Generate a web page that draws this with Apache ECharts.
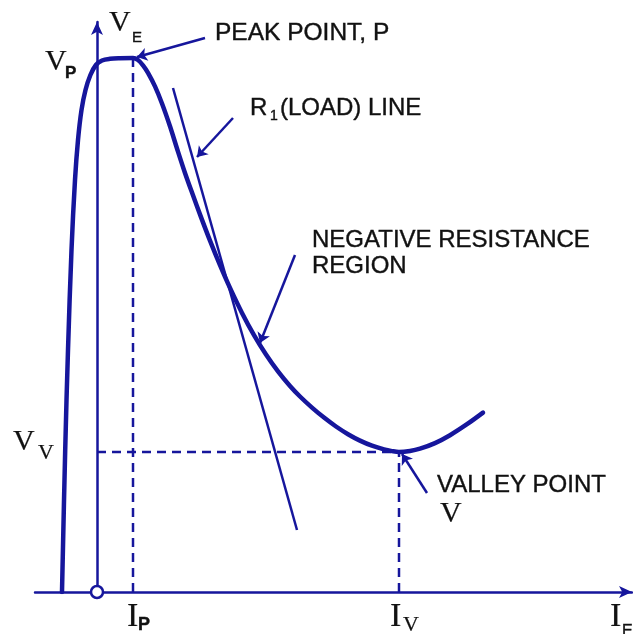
<!DOCTYPE html>
<html>
<head>
<meta charset="utf-8">
<script src="https://cdn.jsdelivr.net/npm/echarts@6/dist/echarts.min.js"></script>
<style>
  html, body { margin: 0; padding: 0; background: #fff; }
  #chart { width: 633px; height: 634px; }
</style>
</head>
<body>
<div id="chart"></div>
<script>
// UJT emitter characteristic: emitter current I_E (x) against emitter voltage V_E (y)
const emitterCurrent = [-3.5, -3.18, -2.9, -2.55, -2.2, -1.9, -1.55, -1.15, -0.66, -0.11,
  0.5, 1.3, 2.3, 3.6, 4.1, 4.6, 5.1, 5.8, 6.5, 7.3, 8.0, 8.8, 9.6, 10.4,
  11.3, 12.3, 13.3, 14.5, 15.7, 16.9, 18.1, 19.3, 20.3, 21.5, 22.7, 23.9,
  25.1, 26.3, 27.5, 28.7, 29.5, 30.2, 31.3, 32.3, 33.8, 35.3, 37.0, 38.6];
const emitterVoltage = [0, 14.2, 24.2, 34.2, 41.2, 45.2, 48.2, 50.2, 51.7, 52.7,
  53.15, 53.32, 53.38, 53.4, 53.2, 52.67, 51.92, 50.56, 48.85, 46.57, 44.35, 41.91, 39.67, 37.49,
  35.14, 32.69, 30.41, 27.91, 25.69, 23.75, 22.06, 20.6, 19.55, 18.44, 17.44, 16.55,
  15.78, 15.14, 14.63, 14.26, 14.09, 14.0, 14.1, 14.33, 14.89, 15.68, 16.78, 17.94];

// Peak and valley points
const peakCurrent = 3.6, peakVoltage = 53.4;
const valleyCurrent = 30.2, valleyVoltage = 14.0;

// R1 load line end points
const loadCurrent = [7.6, 20.0];
const loadVoltage = [50.4, 6.2];

// Axis extents
const currentRange = [-6.2, 53.5];
const voltageRange = [0, 57];

// Annotation pointers: [from, to] in (current, voltage)
const peakPointer = [[10.8, 55.4], [4.0, 53.5]];
const loadPointer = [[13.6, 47.4], [10.0, 43.5]];
const regionPointer = [[19.8, 33.7], [16.3, 24.9]];
const valleyPointer = [[33.0, 9.9], [30.5, 13.8]];

const BLUE = '#16169c';
const INK = '#111111';
const SANS = 'Liberation Sans, Arial, sans-serif';
const SERIF = 'Liberation Serif, Times New Roman, serif';

const zip = (xs, ys) => xs.map((x, i) => [x, ys[i]]);

function text(at, str, offset, font) {
  return {
    value: at,
    label: Object.assign({
      show: true, position: 'right', distance: 0, formatter: str,
      offset: offset, color: INK, opacity: 1, fontFamily: SANS, fontSize: 24,
      textBorderColor: INK, textBorderWidth: 0.4
    }, font || {})
  };
}
const bigSerif = { fontFamily: SERIF, fontSize: 30, textBorderWidth: 0.2 };
const tallSerif = { fontFamily: SERIF, fontSize: 34, textBorderWidth: 0.2 };
const subSerif = { fontFamily: SERIF, fontSize: 22, textBorderWidth: 0.2 };

const labels = [
  // axis names and symbolic values
  text([0, voltageRange[1]], 'V', [12, 1], bigSerif),
  text([0, voltageRange[1]], 'E', [35, 15.5], { fontSize: 15 }),
  text([0, peakVoltage], 'V', [-52, 4], bigSerif),
  text([0, peakVoltage], 'P', [-32, 15.5], { fontSize: 17, fontWeight: 'bold' }),
  text([0, valleyVoltage], 'V', [-84, -9.5], bigSerif),
  text([0, valleyVoltage], 'V', [-59, 1], subSerif),
  text([peakCurrent, 0], 'I', [-6, 25.5], tallSerif),
  text([peakCurrent, 0], 'P', [5, 33], { fontSize: 18, fontWeight: 'bold' }),
  text([valleyCurrent, 0], 'I', [-9, 25.5], tallSerif),
  text([valleyCurrent, 0], 'V', [4, 33], subSerif),
  text([currentRange[1], 0], 'I', [-22, 25.5], tallSerif),
  text([currentRange[1], 0], 'E', [-10, 40], { fontSize: 16 }),
  // annotations
  text(peakPointer[0], 'PEAK POINT, P', [10, -4.5], { fontSize: 24.5 }),
  text(loadPointer[0], 'R', [17, -9.5]),
  text(loadPointer[0], '1', [37, -1.5], { fontSize: 14 }),
  text(loadPointer[0], '(LOAD) LINE', [47, -9.5]),
  text(regionPointer[0], 'NEGATIVE RESISTANCE\nREGION', [17, -2], { lineHeight: 26 }),
  text(valleyPointer[0], 'VALLEY POINT', [10, -8]),
  text(valleyPointer[0], 'V', [13, 21.5], bigSerif)
];

const dashed = { color: BLUE, width: 2.5, type: [9, 6] };

const chart = echarts.init(document.getElementById('chart'), null, { renderer: 'canvas' });
chart.setOption({
  animation: false,
  backgroundColor: '#ffffff',
  grid: { left: 35, right: 1, top: 22, bottom: 42 },
  xAxis: {
    type: 'value', min: currentRange[0], max: currentRange[1],
    axisLine: { onZero: true, symbol: ['none', 'arrow'], symbolSize: [9, 13],
      lineStyle: { color: BLUE, width: 2.5 } },
    axisTick: { show: false }, axisLabel: { show: false }, splitLine: { show: false }
  },
  yAxis: {
    type: 'value', min: voltageRange[0], max: voltageRange[1],
    axisLine: { onZero: true, symbol: ['none', 'arrow'], symbolSize: [9, 13],
      lineStyle: { color: BLUE, width: 2.5 } },
    axisTick: { show: false }, axisLabel: { show: false }, splitLine: { show: false }
  },
  series: [
    { type: 'line', data: [[peakCurrent, 0], [peakCurrent, peakVoltage]], symbol: 'none',
      lineStyle: dashed, z: 2 },
    { type: 'line', data: [[0, valleyVoltage], [valleyCurrent, valleyVoltage]], symbol: 'none',
      lineStyle: dashed, z: 2 },
    { type: 'line', data: [[valleyCurrent, 0], [valleyCurrent, valleyVoltage]], symbol: 'none',
      lineStyle: dashed, z: 2 },
    { type: 'line', data: zip(loadCurrent, loadVoltage), symbol: 'none',
      lineStyle: { color: BLUE, width: 2.5 }, z: 3 },
    { type: 'line', data: zip(emitterCurrent, emitterVoltage), symbol: 'none',
      smooth: 0.35, lineStyle: { color: BLUE, width: 4.5, cap: 'round', join: 'round' }, z: 4 },
    { type: 'lines', coordinateSystem: 'cartesian2d', polyline: false,
      symbol: ['none', 'arrow'], symbolSize: 10,
      lineStyle: { color: BLUE, width: 2.5, opacity: 1, curveness: 0 },
      data: [peakPointer, loadPointer, regionPointer, valleyPointer].map(c => ({ coords: c })),
      z: 5 },
    { type: 'scatter', data: [[0, 0]], symbol: 'circle', symbolSize: 12,
      itemStyle: { color: '#ffffff', borderColor: BLUE, borderWidth: 2.5, opacity: 1 }, z: 6 },
    { type: 'scatter', data: labels, symbolSize: 0, z: 7, silent: true,
      itemStyle: { opacity: 1 } }
  ]
});
</script>
</body>
</html>
